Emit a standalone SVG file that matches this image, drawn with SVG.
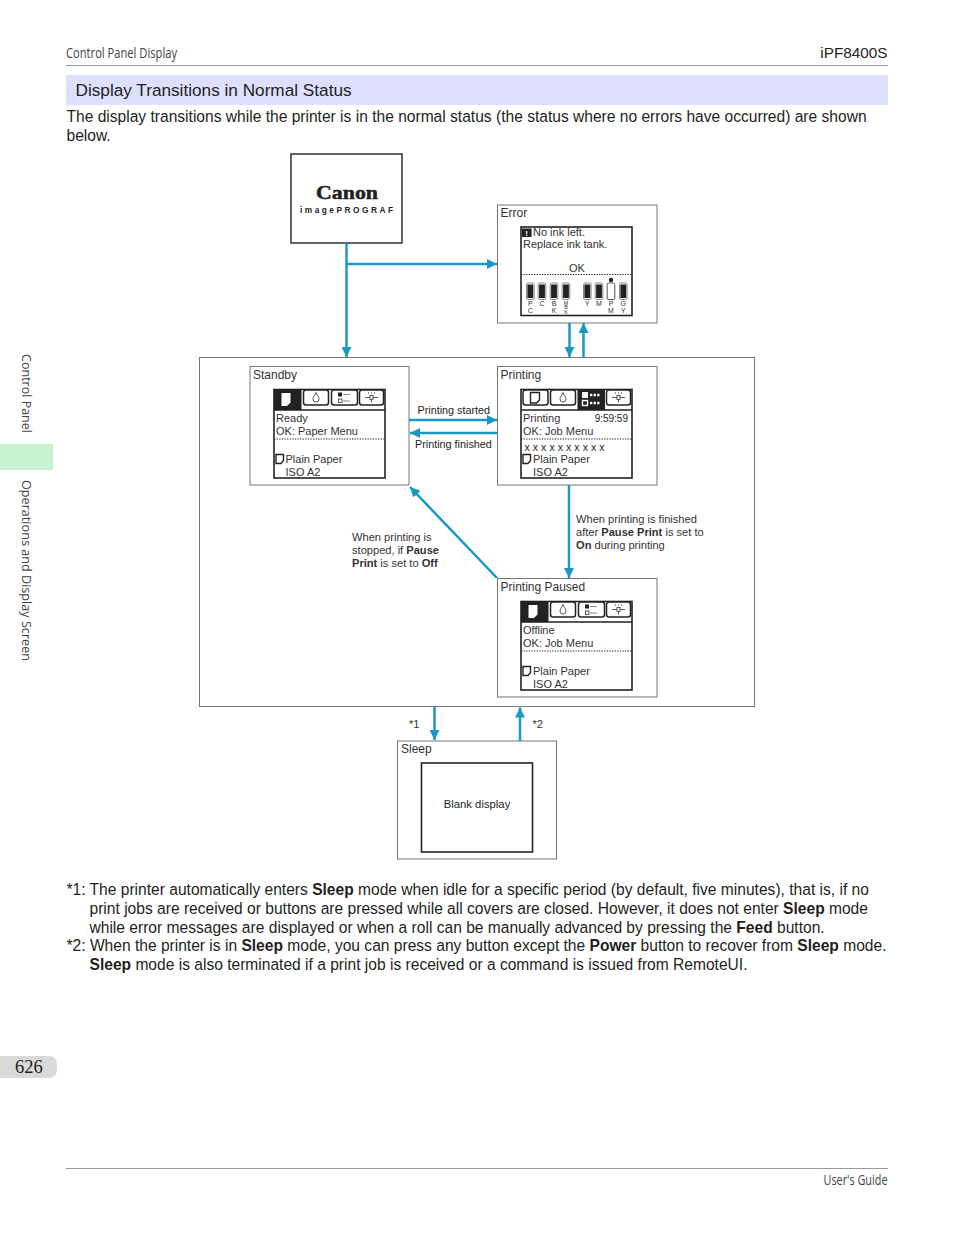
<svg xmlns="http://www.w3.org/2000/svg" width="954" height="1235" viewBox="0 0 954 1235">
<style>
text{font-family:"Liberation Sans",Arial,sans-serif;fill:#231f20}
.body{font-size:15.58px}
.cond{font-family:"Open Sans","Noto Sans",sans-serif;font-size:14px;fill:#444}
.side{font-family:"Open Sans","Noto Sans",sans-serif;font-size:13.5px;fill:#444}
.nl{font-size:12px;fill:#333}
.sc{font-size:11px;fill:#333}
.lb{font-size:11.1px;fill:#333}
.ink{font-size:7px;text-anchor:middle;fill:#333}
.ink3{font-size:5.4px;text-anchor:middle;fill:#333}
.box{fill:#fff;stroke:#777;stroke-width:1}
.scr{fill:#fff;stroke:#222;stroke-width:1.6}
.dot{stroke:#222;stroke-width:1.2;stroke-dasharray:1.3 1.3;fill:none}
.conn{fill:none;stroke:#1a98c2;stroke-width:2.5}
.tab{fill:#fff;stroke:#222;stroke-width:1.5}
.thin{fill:none;stroke:#333;stroke-width:.8}
</style>
<defs>
<marker id="ah" viewBox="0 0 10 10" refX="10" refY="5" markerWidth="10" markerHeight="10" markerUnits="userSpaceOnUse" orient="auto"><path d="M0 0L10 5L0 10Z" fill="#1a98c2"/></marker>
<path id="doc-s" d="M0 0H7.500V6L5 9H0Z" fill="#fff" stroke="#222" stroke-width="1.400"/>
<path id="doc-on" d="M0 0H9V9.500L5.500 13H0Z" fill="#fff"/>
<path id="doc-off" d="M0 0H9V7.500L6 10.500H0Z" fill="#fff" stroke="#222" stroke-width="1.400"/>
<g id="ic-drop"><path class="thin" stroke-width="1" d="M0 -5C-1 -2 -3 -1 -3 1.500A3 3 0 0 0 3 1.500C3 -1 1 -2 0 -5Z"/></g>
<g id="ic-list"><rect x="-8" y="-5" width="4" height="4" fill="#222"/><rect x="-7.500" y="1.500" width="3.500" height="3.500" class="thin"/><path d="M-2.500 -3H4M-2.500 3.500H4" stroke="#333" stroke-width="1" stroke-dasharray="1.200 .8" fill="none"/></g>
<g id="ic-list-on"><rect x="-10" y="-7.500" width="6" height="6" fill="#fff"/><rect x="-9.500" y="1" width="5" height="5" fill="none" stroke="#fff" stroke-width="1.400"/><path d="M-2 -4.500H8M-2 3.500H8" stroke="#fff" stroke-width="2.500" stroke-dasharray="2.300 1.300" fill="none"/></g>
<g id="ic-set"><path class="thin" d="M-6.500 0H-1.500M1.500 0H6.500"/><path d="M-3.500 -4.500H-2.500M-.5 -4.500H.5M2.500 -4.500H3.500" stroke="#333" fill="none"/><rect x="-1.500" y="-2" width="3" height="4" class="thin"/><path class="thin" d="M0 2V5"/></g>
<g id="tabs-rest"><rect class="tab" x="29.500" y="0.500" width="25" height="15" rx="2.500"/><use href="#ic-drop" x="42" y="8"/><rect class="tab" x="85.500" y="0.500" width="24" height="15" rx="2.500"/><use href="#ic-set" x="97.500" y="8"/><path d="M0 20.500H111" stroke="#222" stroke-width="1.400"/></g>
<g id="tabs-a"><rect x="0" y="0" width="27.500" height="20.500" fill="#222"/><use href="#doc-on" x="7.500" y="3.500"/><use href="#tabs-rest"/><rect class="tab" x="57.500" y="0.500" width="26" height="15" rx="2.500"/><use href="#ic-list" x="72" y="8"/></g>
<g id="tabs-b"><rect class="tab" x="2" y="0.500" width="25" height="15" rx="2.500"/><use href="#doc-off" x="9.500" y="3"/><use href="#tabs-rest"/><rect x="56.500" y="0" width="27.500" height="20.500" fill="#222"/><use href="#ic-list-on" x="71" y="10"/></g>
<g id="tank"><rect x="-3.800" y="0" width="7.600" height="16.500" rx="1.500" fill="#fff" stroke="#888"/><rect x="-2.900" y="1.500" width="5.800" height="13.500" fill="#222"/></g>
</defs>
<rect width="954" height="1235" fill="#fff"/>

<g id="page">
<text class="cond" x="66" y="58" textLength="111" lengthAdjust="spacingAndGlyphs">Control Panel Display</text>
<text x="887.500" y="58" font-size="15.300" text-anchor="end">iPF8400S</text>
<path d="M66 65.500H888M66 1168.500H888" stroke="#999" stroke-width="1"/>
<rect x="66" y="75" width="822" height="30" fill="#dfdfff"/>
<text x="75.500" y="96" font-size="17.200">Display Transitions in Normal Status</text>
<text class="body" x="66.500" y="122">The display transitions while the printer is in the normal status (the status where no errors have occurred) are shown</text>
<text class="body" x="66.500" y="141">below.</text>
<rect x="0" y="444" width="53" height="26" fill="#c8f1d0"/>
<text class="side" transform="translate(22 354) rotate(90)" textLength="79" lengthAdjust="spacingAndGlyphs">Control Panel</text>
<text class="side" transform="translate(22 480) rotate(90)" textLength="181" lengthAdjust="spacingAndGlyphs">Operations and Display Screen</text>
<path d="M0 1056H49a8 8 0 0 1 8 8V1070a8 8 0 0 1 -8 8H0Z" fill="#d9d9d9"/>
<text x="15" y="1072.500" font-size="18.500" style="font-family:'Liberation Serif',serif">626</text>
<text class="cond" x="823.500" y="1185" textLength="64" lengthAdjust="spacingAndGlyphs">User's Guide</text>
</g>

<g id="group-normal"><rect x="199.500" y="357.500" width="555" height="349" fill="#fff" stroke="#777"/></g>

<g id="node-canon">
<rect x="291" y="154" width="111" height="89" fill="#fff" stroke="#222" stroke-width="1.400"/>
<text x="316" y="199" font-size="19" font-weight="bold" textLength="62" lengthAdjust="spacingAndGlyphs" stroke="#222" stroke-width=".5" style="font-family:'Liberation Serif',serif">Canon</text>
<text x="300" y="213" font-size="8.300" font-weight="bold" textLength="93" lengthAdjust="spacing">imagePROGRAF</text>
</g>

<g id="node-error">
<rect class="box" x="497.500" y="205" width="159.500" height="118"/>
<text class="nl" x="500.500" y="216.500">Error</text>
<rect class="scr" x="521" y="227" width="111" height="88.500"/>
<rect x="522" y="228.500" width="9.500" height="8.500" fill="#222"/>
<text x="526.700" y="236" font-size="8" font-weight="bold" text-anchor="middle" style="fill:#fff">!</text>
<text class="sc" x="533" y="236">No ink left.</text>
<text class="sc" x="523" y="248">Replace ink tank.</text>
<text class="sc" x="577" y="272" text-anchor="middle">OK</text>
<path class="dot" d="M521 274.500H632"/>
<use href="#tank" x="530.300" y="283"/><use href="#tank" x="542" y="283"/><use href="#tank" x="554" y="283"/><use href="#tank" x="566" y="283"/><use href="#tank" x="587.300" y="283"/><use href="#tank" x="599" y="283"/>
<rect x="607.200" y="283" width="7.600" height="16.500" rx="1.500" fill="#fff" stroke="#555"/><use href="#tank" x="623.300" y="283"/>
<circle cx="611" cy="280" r="2.200" fill="#222"/>
<text class="ink" x="530.300" y="306.300">P</text><text class="ink" x="530.300" y="312.800">C</text>
<text class="ink" x="542" y="306.300">C</text>
<text class="ink" x="554" y="306.300">B</text><text class="ink" x="554" y="312.800">K</text>
<text class="ink3" x="566" y="304.500">M</text><text class="ink3" x="566" y="309.200">B</text><text class="ink3" x="566" y="313.900">K</text>
<text class="ink" x="587.300" y="306.300">Y</text>
<text class="ink" x="599" y="306.300">M</text>
<text class="ink" x="611" y="306.300">P</text><text class="ink" x="611" y="312.800">M</text>
<text class="ink" x="623.300" y="306.300">G</text><text class="ink" x="623.300" y="312.800">Y</text>
</g>

<g id="node-standby">
<rect class="box" x="250" y="366.500" width="159" height="118.500"/>
<text class="nl" x="253" y="379">Standby</text>
<rect class="scr" x="274" y="389.500" width="111" height="88.500"/>
<use href="#tabs-a" x="274" y="389.500"/>
<text class="sc" x="276" y="422">Ready</text>
<text class="sc" x="276" y="435">OK: Paper Menu</text>
<path class="dot" d="M274 439H385"/>
<use href="#doc-s" x="276" y="454.500"/>
<text class="sc" x="285.500" y="463">Plain Paper</text>
<text class="sc" x="285.500" y="476">ISO A2</text>
</g>

<g id="node-printing">
<rect class="box" x="497.500" y="366.500" width="159.500" height="118.500"/>
<text class="nl" x="500.500" y="379">Printing</text>
<rect class="scr" x="521" y="389.500" width="111" height="88.500"/>
<use href="#tabs-b" x="521" y="389.500"/>
<text class="sc" x="523" y="422">Printing</text>
<text x="628" y="422" font-size="10" text-anchor="end" fill="#333">9:59:59</text>
<text class="sc" x="523" y="435">OK: Job Menu</text>
<path class="dot" d="M521 439H632"/>
<text x="524.500" y="450.500" font-size="10.500" textLength="80" lengthAdjust="spacing" fill="#333">x x x x x x x x x x</text>
<use href="#doc-s" x="523" y="454.500"/>
<text class="sc" x="533" y="463">Plain Paper</text>
<text class="sc" x="533" y="476">ISO A2</text>
</g>

<g id="node-paused">
<rect class="box" x="497.500" y="578.500" width="159.500" height="118.500"/>
<text class="nl" x="500.500" y="591">Printing Paused</text>
<rect class="scr" x="521" y="601.500" width="111" height="88.500"/>
<use href="#tabs-a" x="521" y="601.500"/>
<text class="sc" x="523" y="634">Offline</text>
<text class="sc" x="523" y="647">OK: Job Menu</text>
<path class="dot" d="M521 651H632"/>
<use href="#doc-s" x="523" y="666.500"/>
<text class="sc" x="533" y="675">Plain Paper</text>
<text class="sc" x="533" y="688">ISO A2</text>
</g>

<g id="node-sleep">
<rect class="box" x="397.500" y="741" width="159" height="118"/>
<text class="nl" x="401" y="753">Sleep</text>
<rect class="scr" x="421.500" y="763" width="111" height="89"/>
<text x="477" y="808" text-anchor="middle" font-size="11.300" fill="#333">Blank display</text>
</g>

<g id="connectors">
<path class="conn" d="M346.500 243V357" marker-end="url(#ah)"/>
<path class="conn" d="M346.500 264H497" marker-end="url(#ah)"/>
<path class="conn" d="M569.500 323V357" marker-end="url(#ah)"/>
<path class="conn" d="M583.500 357V323" marker-end="url(#ah)"/>
<path class="conn" d="M409 420H497" marker-end="url(#ah)"/>
<path class="conn" d="M497 433H410" marker-end="url(#ah)"/>
<path class="conn" d="M497 578L410 487" marker-end="url(#ah)"/>
<path class="conn" d="M569 485V578" marker-end="url(#ah)"/>
<path class="conn" d="M434.500 707V740" marker-end="url(#ah)"/>
<path class="conn" d="M520 741V707.500" marker-end="url(#ah)"/>
</g>

<g id="connector-labels">
<text x="417.500" y="413.500" font-size="10.800" fill="#333">Printing started</text>
<text x="415" y="447.500" font-size="10.800" fill="#333">Printing finished</text>
<text class="lb" x="352" y="541">When printing is</text>
<text class="lb" x="352" y="554">stopped, if <tspan font-weight="bold">Pause</tspan></text>
<text class="lb" x="352" y="567"><tspan font-weight="bold">Print</tspan> is set to <tspan font-weight="bold">Off</tspan></text>
<text class="lb" x="576" y="523">When printing is finished</text>
<text class="lb" x="576" y="536">after <tspan font-weight="bold">Pause Print</tspan> is set to</text>
<text class="lb" x="576" y="549"><tspan font-weight="bold">On</tspan> during printing</text>
<text class="lb" x="409" y="728">*1</text>
<text class="lb" x="532.500" y="728">*2</text>
</g>

<g id="notes">
<text class="body" x="66.500" y="895">*1: The printer automatically enters <tspan font-weight="bold">Sleep</tspan> mode when idle for a specific period (by default, five minutes), that is, if no</text>
<text class="body" x="89.500" y="914">print jobs are received or buttons are pressed while all covers are closed. However, it does not enter <tspan font-weight="bold">Sleep</tspan> mode</text>
<text class="body" x="89.500" y="933">while error messages are displayed or when a roll can be manually advanced by pressing the <tspan font-weight="bold">Feed</tspan> button.</text>
<text class="body" x="66.500" y="951">*2: When the printer is in <tspan font-weight="bold">Sleep</tspan> mode, you can press any button except the <tspan font-weight="bold">Power</tspan> button to recover from <tspan font-weight="bold">Sleep</tspan> mode.</text>
<text class="body" x="89.500" y="970"><tspan font-weight="bold">Sleep</tspan> mode is also terminated if a print job is received or a command is issued from RemoteUI.</text>
</g>
</svg>
